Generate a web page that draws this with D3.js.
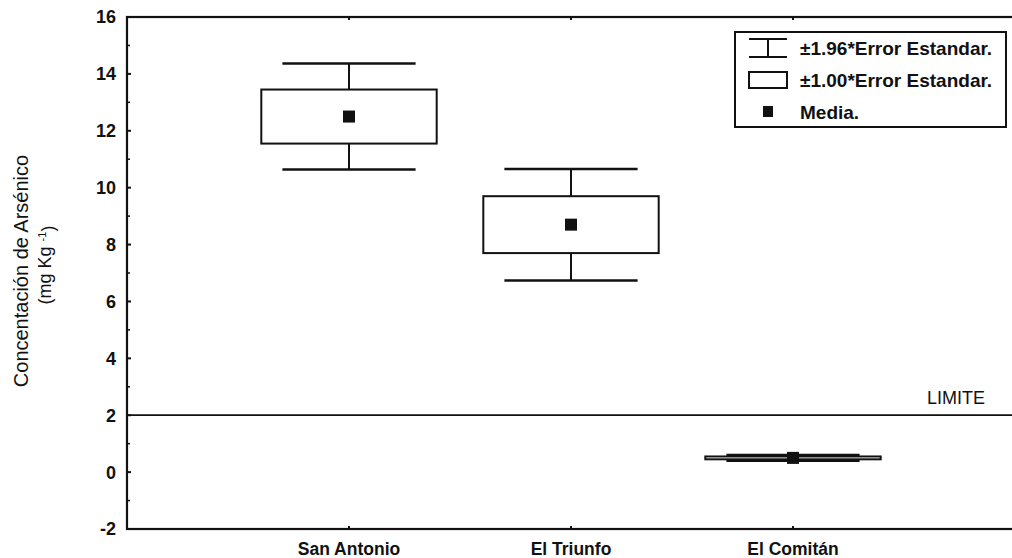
<!DOCTYPE html>
<html>
<head>
<meta charset="utf-8">
<script src="https://cdn.jsdelivr.net/npm/d3@7"></script>
<style>
  body { margin: 0; background: #fff; }
  text { font-family: "Liberation Sans", Arial, sans-serif; fill: #111; }
</style>
</head>
<body>
<div id="chart"></div>
<script>
// data
const categories = ["San Antonio", "El Triunfo", "El Comitán"];
const means = [12.5, 8.7, 0.5];
const stdErrors = [0.95, 1.0, 0.05];
const yTicks = [-2, 0, 2, 4, 6, 8, 10, 12, 14, 16];
const yMinorTicks = [-1, 1, 3, 5, 7, 9, 11, 13, 15];
const limitValue = 2;
const limitLabel = "LIMITE";
const legendLabels = ["±1.96*Error Estandar.", "±1.00*Error Estandar.", "Media."];

const width = 1012, height = 558;
const plotLeft = 127, plotTop = 17, plotBottom = 529, plotRight = 1015;

const svg = d3.select("#chart").append("svg")
    .attr("width", width)
    .attr("height", height);

const x = d3.scalePoint()
    .domain(categories)
    .range([plotLeft, plotRight])
    .padding(1);

const y = d3.scaleLinear()
    .domain([-2, 16])
    .range([plotBottom, plotTop]);

const step = x.step();
const boxW = step * 0.79;
const capW = step * 0.6;

// frame
svg.append("rect")
    .attr("x", plotLeft).attr("y", plotTop)
    .attr("width", plotRight - plotLeft).attr("height", plotBottom - plotTop)
    .attr("fill", "none")
    .attr("stroke", "#111")
    .attr("stroke-width", 2.2);

// y axis ticks (inward) and labels
let yAxis = svg.append("g");
yTicks.forEach(t => {
    yAxis.append("line")
        .attr("x1", plotLeft).attr("x2", plotLeft + 4)
        .attr("y1", y(t)).attr("y2", y(t))
        .attr("stroke", "#111").attr("stroke-width", 2);
    yAxis.append("text")
        .attr("x", plotLeft - 11)
        .attr("y", y(t))
        .attr("dy", "0.36em")
        .attr("text-anchor", "end")
        .attr("font-size", 18)
        .attr("font-weight", "bold")
        .text(t);
});
yMinorTicks.forEach(t => {
    yAxis.append("line")
        .attr("x1", plotLeft).attr("x2", plotLeft + 3)
        .attr("y1", y(t)).attr("y2", y(t))
        .attr("stroke", "#111").attr("stroke-width", 1.5);
});

// x ticks (inward on bottom and top) and labels
categories.forEach(c => {
    svg.append("line")
        .attr("x1", x(c)).attr("x2", x(c))
        .attr("y1", plotBottom).attr("y2", plotBottom - 3)
        .attr("stroke", "#111").attr("stroke-width", 2);
    svg.append("line")
        .attr("x1", x(c)).attr("x2", x(c))
        .attr("y1", plotTop).attr("y2", plotTop + 3)
        .attr("stroke", "#111").attr("stroke-width", 2);
    svg.append("text")
        .attr("x", x(c))
        .attr("y", 555)
        .attr("text-anchor", "middle")
        .attr("font-size", 17.5)
        .attr("font-weight", "bold")
        .text(c);
});

// y axis title
let yTitle = svg.append("text")
    .attr("transform", "translate(21, 271) rotate(-90)")
    .attr("text-anchor", "middle")
    .attr("font-size", 20);
yTitle.append("tspan").attr("x", 0).attr("dy", "0.35em").text("Concentación de Arsénico");
let yTitle2 = svg.append("text")
    .attr("transform", "translate(45, 265) rotate(-90)")
    .attr("text-anchor", "middle")
    .attr("font-size", 18);
yTitle2.append("tspan").attr("dy", "0.35em").text("(mg Kg ");
yTitle2.append("tspan").attr("dy", "-0.45em").attr("font-size", 11).text("-1");
yTitle2.append("tspan").attr("dy", "0.45em").text(")");

// limit line
svg.append("line")
    .attr("x1", plotLeft).attr("x2", plotRight)
    .attr("y1", y(limitValue)).attr("y2", y(limitValue))
    .attr("stroke", "#111").attr("stroke-width", 1.8);
svg.append("text")
    .attr("x", 985)
    .attr("y", y(limitValue) - 11)
    .attr("text-anchor", "end")
    .attr("font-size", 18)
    .text(limitLabel);

// boxes
const stats = categories.map((c, i) => ({ cat: c, mean: means[i], se: stdErrors[i] }));
const groups = svg.append("g").selectAll("g")
    .data(stats)
    .enter().append("g");

// whisker stems
groups.append("line")
    .attr("x1", d => x(d.cat)).attr("x2", d => x(d.cat))
    .attr("y1", d => y(d.mean + 1.96 * d.se))
    .attr("y2", d => y(d.mean - 1.96 * d.se))
    .attr("stroke", "#111").attr("stroke-width", 2);
// caps
[1.96, -1.96].forEach(k => {
    groups.append("line")
        .attr("x1", d => x(d.cat) - capW / 2).attr("x2", d => x(d.cat) + capW / 2)
        .attr("y1", d => y(d.mean + k * d.se)).attr("y2", d => y(d.mean + k * d.se))
        .attr("stroke", "#111").attr("stroke-width", 2.5);
});
// box
groups.append("rect")
    .attr("x", d => x(d.cat) - boxW / 2)
    .attr("width", boxW)
    .attr("y", d => y(d.mean + d.se))
    .attr("height", d => y(d.mean - d.se) - y(d.mean + d.se))
    .attr("fill", "#fff")
    .attr("stroke", "#111").attr("stroke-width", 2);
// mean
groups.append("rect")
    .attr("x", d => x(d.cat) - 6)
    .attr("y", d => y(d.mean) - 6)
    .attr("width", 12).attr("height", 12)
    .attr("fill", "#111");

// legend
let legend = svg.append("g").attr("transform", "translate(735, 32)");
legend.append("rect")
    .attr("width", 271).attr("height", 95)
    .attr("fill", "#fff")
    .attr("stroke", "#111").attr("stroke-width", 2);
// whisker icon
legend.append("line").attr("x1", 14).attr("x2", 52).attr("y1", 7).attr("y2", 7)
    .attr("stroke", "#111").attr("stroke-width", 2);
legend.append("line").attr("x1", 14).attr("x2", 52).attr("y1", 25).attr("y2", 25)
    .attr("stroke", "#111").attr("stroke-width", 2);
legend.append("line").attr("x1", 33).attr("x2", 33).attr("y1", 7).attr("y2", 25)
    .attr("stroke", "#111").attr("stroke-width", 2);
// box icon
legend.append("rect").attr("x", 14).attr("y", 40).attr("width", 38).attr("height", 16)
    .attr("fill", "#fff").attr("stroke", "#111").attr("stroke-width", 2);
// mean icon
legend.append("rect").attr("x", 28).attr("y", 74).attr("width", 10).attr("height", 11)
    .attr("fill", "#111");
legendLabels.forEach((lab, i) => {
    legend.append("text")
        .attr("x", 65)
        .attr("y", 16 + i * 32)
        .attr("dy", "0.36em")
        .attr("font-size", 19)
        .attr("font-weight", "bold")
        .text(lab);
});
</script>
</body>
</html>
